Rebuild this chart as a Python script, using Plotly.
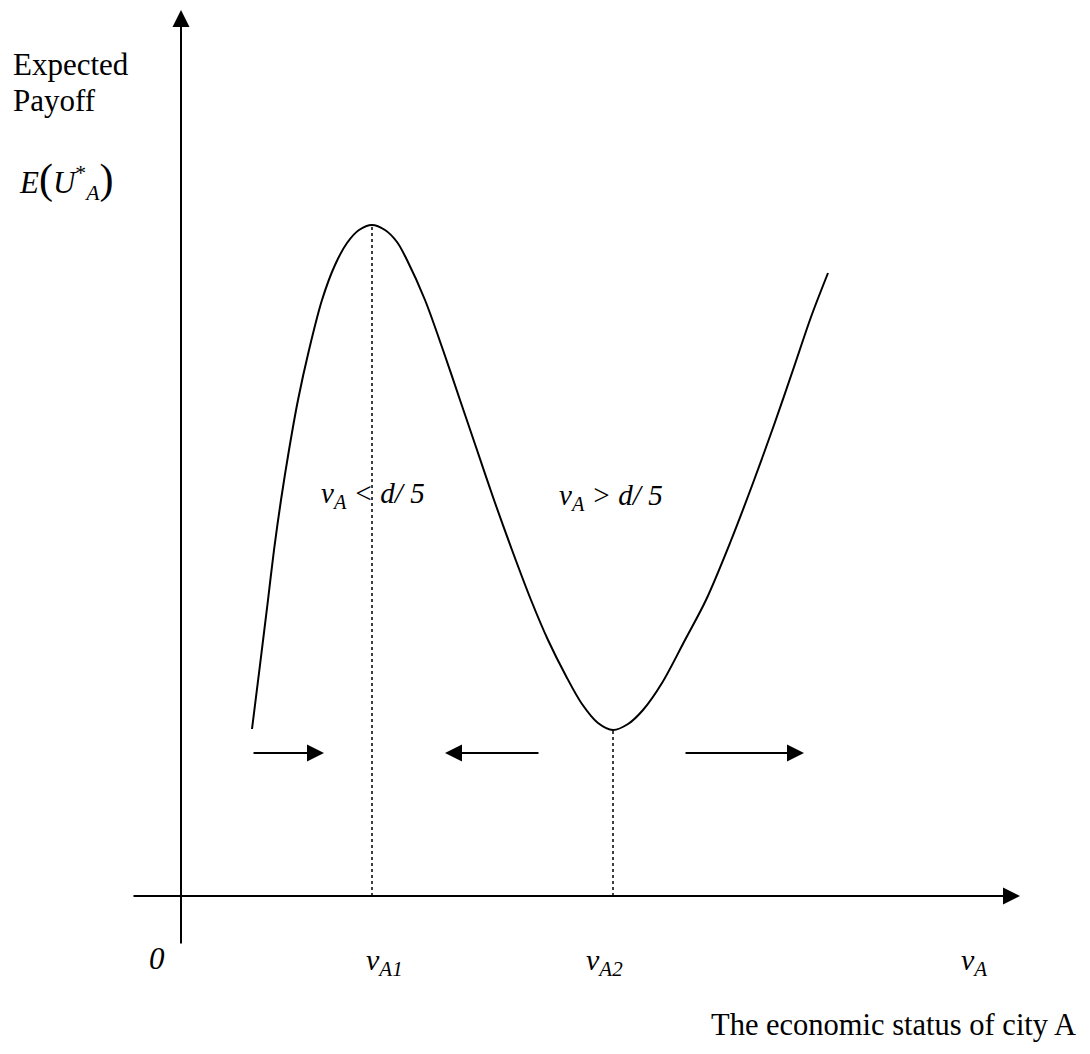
import plotly.graph_objects as go

# expected payoff curve (origin at the axes crossing)
curve_x = [71, 79, 87, 93, 100, 108, 117, 128, 141, 154, 166, 178, 191,
           204, 216, 226, 244, 262, 279, 296, 313, 331, 350, 367, 385, 401, 417, 432,
           447, 462, 481, 504, 525, 549, 572, 593, 613, 630, 647]
curve_y = [167, 231, 296, 346, 396, 446, 496, 546, 596, 631, 653, 666, 671,
           666, 654, 636, 596, 546, 496, 446, 396, 346, 296, 256, 220, 192, 173, 166,
           172, 186, 213, 256, 296, 353, 413, 471, 529, 579, 623]

# critical points v_A1 (maximum) and v_A2 (minimum)
crit_x = [191, 432]
crit_y = [671, 166]

# direction-of-movement arrows (tail -> tip), all at the same height
flow_tail = [71, 359, 503]
flow_tip = [143, 264, 623]
flow_y = 143

# axis extents
x_axis = (-49, 839)
y_axis = (-49, 886)

FONT = "Liberation Serif"

fig = go.Figure()

fig.add_trace(go.Scatter(
    x=curve_x, y=curve_y, mode="lines",
    line=dict(color="black", width=2, shape="spline", smoothing=0.9),
    hoverinfo="skip", showlegend=False
))

for cx, cy in zip(crit_x, crit_y):
    fig.add_trace(go.Scatter(
        x=[cx, cx], y=[0, cy], mode="lines",
        line=dict(color="black", width=1.5, dash="dot"),
        hoverinfo="skip", showlegend=False
    ))

arrows = []
# axes
arrows.append(dict(x=x_axis[1], y=0, ax=x_axis[0], ay=0))
arrows.append(dict(x=0, y=y_axis[1], ax=0, ay=y_axis[0]))
for t0, t1 in zip(flow_tail, flow_tip):
    arrows.append(dict(x=t1, y=flow_y, ax=t0, ay=flow_y))

for a in arrows:
    fig.add_annotation(
        x=a["x"], y=a["y"], ax=a["ax"], ay=a["ay"],
        xref="x", yref="y", axref="x", ayref="y",
        text="", showarrow=True, arrowhead=2, arrowsize=1.7,
        arrowwidth=2, arrowcolor="black", standoff=0
    )

labels = [
    ("Expected", -169, 832, "left", 31),
    ("Payoff", -169, 796, "left", 31),
    ("<i>E</i><span style='font-size:42px'>(</span><i>U</i><sup>*</sup><sub><i>A</i></sub>"
     "<span style='font-size:42px'>)</span>", -163, 716, "left", 31),
    ("<i>v<sub>A</sub> &lt; d/ 5</i>", 139, 401, "left", 29),
    ("<i>v<sub>A</sub> &gt; d/ 5</i>", 377, 399, "left", 29),
    ("<i>0</i>", -33, -62, "left", 31),
    ("<i>v<sub>A1</sub></i>", 184, -66, "left", 30),
    ("<i>v<sub>A2</sub></i>", 404, -66, "left", 30),
    ("<i>v<sub>A</sub></i>", 779, -66, "left", 30),
    ("The economic status of city A", 896, -129, "right", 30.5),
]
for txt, lx, ly, anchor, size in labels:
    fig.add_annotation(
        x=lx, y=ly, xref="x", yref="y", text=txt, showarrow=False,
        xanchor=anchor, yanchor="middle", borderpad=0,
        font=dict(family=FONT, size=size, color="black")
    )

# the page adds an 8px body margin, so the figure is 16px smaller than the window
fig.update_layout(
    width=1074, height=1038,
    margin=dict(l=0, r=0, t=0, b=0),
    plot_bgcolor="white", paper_bgcolor="white",
    showlegend=False,
    xaxis=dict(range=[-173, 901], visible=False, fixedrange=True),
    yaxis=dict(range=[-150, 888], visible=False, fixedrange=True),
)

fig.write_html("out.html")
